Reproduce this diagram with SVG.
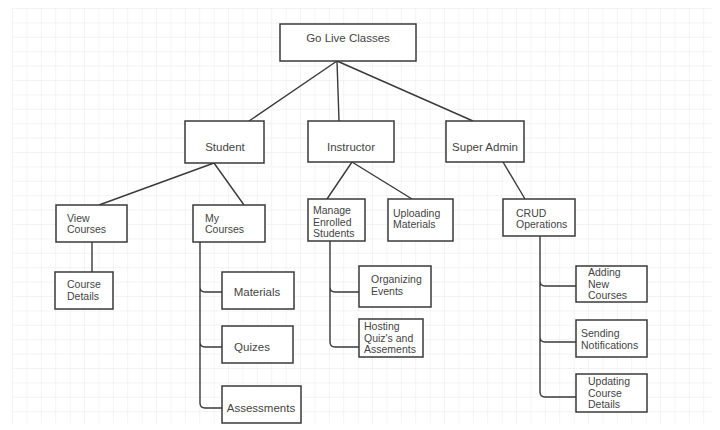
<svg xmlns="http://www.w3.org/2000/svg" width="720" height="430" viewBox="0 0 720 430">
<defs>
<pattern id="grid" x="12" y="8" width="14.4" height="14.4" patternUnits="userSpaceOnUse">
<path d="M0,0 H14.4 M0,0 V14.4" fill="none" stroke="#e8e8e8" stroke-width="1"/>
</pattern>
<style>
.box{fill:#fff;stroke:#3a3a3a;stroke-width:1.5}
.t{font-family:"Liberation Sans",Arial,sans-serif;font-size:11.5px;fill:#444}
.m{font-size:10.5px}
.c{text-anchor:middle}
.ln{fill:none;stroke:#3a3a3a;stroke-width:1.4}
</style>
</defs>
<rect width="720" height="430" fill="#fff"/>
<rect x="12" y="8" width="700" height="416" fill="url(#grid)"/>
<g id="connectors">
<path class="ln" d="M337,61 L249,121 M337,61 L339,121 M337,61 L473,121"/>
<path class="ln" d="M214,163 L99,205 M214,163 L244,205 M92,242 V272"/>
<path class="ln" d="M352,162 L327,199 M352,162 L412,199"/>
<path class="ln" d="M503,162 L525,199"/>
<path class="ln" d="M200,242 V403 Q200,408 205,408 H222 M200,287 Q200,292 205,292 H222 M200,342 Q200,347 205,347 H222"/>
<path class="ln" d="M330,241 V342 Q330,347 335,347 H359 M330,287 Q330,292 335,292 H359"/>
<path class="ln" d="M540,236 V392 Q540,397 545,397 H576 M540,281 Q540,286 545,286 H576 M540,337 Q540,342 545,342 H576"/>
</g>
<g id="go-live"><rect class="box" x="280" y="24" width="136" height="37"/><text class="t c" x="348" y="42">Go Live Classes</text></g>
<g id="student"><rect class="box" x="185" y="121" width="79" height="42"/><text class="t c" x="225" y="151">Student</text></g>
<g id="instructor"><rect class="box" x="308" y="121" width="86" height="41"/><text class="t c" x="351" y="151">Instructor</text></g>
<g id="super-admin"><rect class="box" x="446" y="121" width="78" height="41"/><text class="t c" x="485" y="151">Super Admin</text></g>
<g id="view-courses"><rect class="box" x="56" y="205" width="71" height="37"/><text class="t m" x="67" y="221.5">View<tspan x="67" dy="11.5">Courses</tspan></text></g>
<g id="my-courses"><rect class="box" x="193" y="205" width="72" height="37"/><text class="t m" x="205" y="221.5">My<tspan x="205" dy="11.5">Courses</tspan></text></g>
<g id="course-details"><rect class="box" x="55" y="272" width="58" height="37"/><text class="t m" x="67" y="288">Course<tspan x="67" dy="11.5">Details</tspan></text></g>
<g id="materials"><rect class="box" x="222" y="272" width="72" height="37"/><text class="t c" x="257" y="296">Materials</text></g>
<g id="quizes"><rect class="box" x="222" y="326" width="71" height="37"/><text class="t c" x="252" y="351">Quizes</text></g>
<g id="assessments"><rect class="box" x="222" y="386" width="79" height="37"/><text class="t c" x="261" y="412">Assessments</text></g>
<g id="manage-enrolled"><rect class="box" x="308" y="199" width="57" height="42"/><text class="t m" x="313" y="214">Manage<tspan x="313" dy="11.5">Enrolled</tspan><tspan x="313" dy="11.5">Students</tspan></text></g>
<g id="uploading-materials"><rect class="box" x="388" y="199" width="65" height="42"/><text class="t m" x="393" y="216.5">Uploading<tspan x="393" dy="11.5">Materials</tspan></text></g>
<g id="organizing-events"><rect class="box" x="359" y="266" width="72" height="41"/><text class="t m" x="371" y="283">Organizing<tspan x="371" dy="11.5">Events</tspan></text></g>
<g id="hosting-quiz"><rect class="box" x="359" y="319" width="64" height="38"/><text class="t m" x="364" y="330">Hosting<tspan x="364" dy="11.5">Quiz's and</tspan><tspan x="364" dy="11.5">Assements</tspan></text></g>
<g id="crud"><rect class="box" x="503" y="199" width="72" height="37"/><text class="t m" x="516" y="216.5">CRUD<tspan x="516" dy="11.5">Operations</tspan></text></g>
<g id="adding-new-courses"><rect class="box" x="576" y="266" width="71" height="36"/><text class="t m" x="588" y="276">Adding<tspan x="588" dy="11.5">New</tspan><tspan x="588" dy="11.5">Courses</tspan></text></g>
<g id="sending-notifications"><rect class="box" x="576" y="320" width="71" height="37"/><text class="t m" x="581" y="337">Sending<tspan x="581" dy="11.5">Notifications</tspan></text></g>
<g id="updating-course-details"><rect class="box" x="576" y="374" width="71" height="38"/><text class="t m" x="588" y="385">Updating<tspan x="588" dy="11.5">Course</tspan><tspan x="588" dy="11.5">Details</tspan></text></g>
</svg>
